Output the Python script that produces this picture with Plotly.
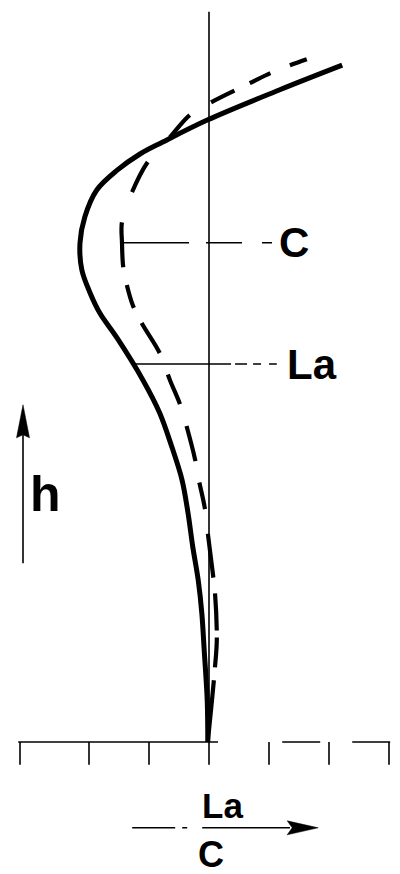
import numpy as np
import plotly.graph_objects as go

# Profiles against height h: La (solid) and C (dashed); horizontal axis is La/C
LA_X = [-0.02, -0.03, -0.08, -0.12, -0.18, -0.27, -0.35, -0.45, -0.62, -0.82, -1.10,
        -1.53, -1.82, -1.98, -2.12, -2.15, -2.07, -1.87, -1.53, -1.15, -0.77, -0.02,
        1.18, 2.22]
LA_H = [0.0, 0.70, 1.53, 2.15, 2.70, 3.25, 3.82, 4.37, 4.92, 5.48, 6.03,
        6.73, 7.15, 7.48, 7.87, 8.32, 8.75, 9.20, 9.53, 9.80, 10.00, 10.37,
        10.87, 11.28]

C_X = [-0.02, 0.05, 0.10, 0.13, 0.10, 0.05, -0.02, -0.07, -0.17, -0.23, -0.37,
       -0.48, -0.65, -0.82, -1.12, -1.27, -1.37, -1.43, -1.45, -1.45, -1.28, -1.02,
       -0.65, -0.32, 0.05, 0.68, 1.03, 1.35, 1.63]
C_H = [0.0, 0.70, 1.25, 1.70, 2.48, 2.92, 3.48, 3.90, 4.37, 4.70, 5.25,
       5.62, 6.03, 6.48, 6.98, 7.28, 7.62, 7.92, 8.32, 8.67, 9.17, 9.67,
       10.08, 10.45, 10.67, 10.98, 11.15, 11.28, 11.38]

# Reference levels marked on the chart
LEVEL_C = 8.32
LEVEL_LA = 6.30

# Tick marks along the La/C axis
TICKS = [-3.15, -2.0, -1.0, 0.0, 1.0, 2.0, 3.0]

W, H = 400, 874
PX = 60.0                     # pixels per data unit, both axes
X0_PX, Y0_PX = 209, 742       # pixel position of the origin
XR = [-X0_PX / PX, (W - X0_PX) / PX]
YR = [(Y0_PX - H) / PX, Y0_PX / PX]

INK = "#000000"
FONT = "Liberation Sans, Arial, Helvetica, sans-serif"

fig = go.Figure()


def seg(x, y, width=1.6, dash="solid"):
    fig.add_trace(go.Scatter(x=x, y=y, mode="lines",
                             line=dict(color=INK, width=width, dash=dash),
                             hoverinfo="skip"))


def arrowhead(tip_x, tip_y, direction, length_px, half_px, notch_px):
    """Filled, slightly notched arrowhead; direction is 'right' or 'up'."""
    L, Hh, N = length_px / PX, half_px / PX, notch_px / PX
    if direction == "right":
        pts = [(tip_x, tip_y), (tip_x - L, tip_y + Hh),
               (tip_x - L + N, tip_y), (tip_x - L, tip_y - Hh)]
    else:
        pts = [(tip_x, tip_y), (tip_x + Hh, tip_y - L),
               (tip_x, tip_y - L + N), (tip_x - Hh, tip_y - L)]
    path = "M " + " L ".join(f"{a},{b}" for a, b in pts) + " Z"
    fig.add_shape(type="path", path=path, xref="x", yref="y",
                  fillcolor=INK, line=dict(color=INK, width=0.5))


# vertical reference axis (La/C = 0)
seg([0, 0], [0, 12.17], width=1.6)

# baseline with hanging ticks
seg([-3.18, 0.15], [0, 0], width=1.6)
seg([1.22, 3.02], [0, 0], width=1.5, dash="38px,32px")
tx, ty = [], []
for t in TICKS:
    tx += [t, t, None]
    ty += [0, -0.38, None]
seg(tx, ty, width=1.6)

# level line for the C extremum
c_start = min(C_X)
seg([c_start, 1.07], [LEVEL_C, LEVEL_C], width=1.6,
    dash="67px,17px,36px,20px,10px,200px")

# level line for La
la_start = float(np.interp(LEVEL_LA, LA_H, LA_X))
seg([la_start, 1.13], [LEVEL_LA, LEVEL_LA], width=1.5,
    dash="98px,4px,12px,6px,8px,8px,10px,200px")

# C profile (dashed)
fig.add_trace(go.Scatter(
    x=C_X, y=C_H, mode="lines",
    line=dict(color=INK, width=4.2, shape="spline", smoothing=1.0,
              dash="62px,13px,30px,7px,37px,16px,44px,25px,27px,22px,36px,23px,"
                   "32px,23px,35px,17px,24px,18px,45px,32px,34px,33px,30px,25px,"
                   "26px,17px,23px,21px,18px,60px"),
    hoverinfo="skip"))

# La profile (solid)
fig.add_trace(go.Scatter(
    x=LA_X, y=LA_H, mode="lines",
    line=dict(color=INK, width=5, shape="spline", smoothing=1.0),
    hoverinfo="skip"))

# h arrow
seg([-3.10, -3.10], [2.98, 5.30], width=1.6)
arrowhead(-3.10, 5.62, "up", 33, 6.5, 3)

# La/C arrow
seg([-1.28, 1.35], [-1.43, -1.43], width=1.6, dash="43px,7px,5px,15px,200px")
arrowhead(1.82, -1.43, "right", 31, 7, 5)

labels = [
    ("h", -2.73, 4.13, 50),
    ("C", 1.42, LEVEL_C, 42),
    ("La", 1.72, LEVEL_LA, 42),
    ("La", 0.22, -1.05, 35),
    ("C", 0.03, -1.88, 36),
]
for text, x, y, size in labels:
    fig.add_annotation(x=x, y=y, xref="x", yref="y", text=text, showarrow=False,
                       xanchor="center", yanchor="middle",
                       font=dict(family=FONT, size=size, color=INK, weight="bold"))

fig.update_layout(
    width=W, height=H, margin=dict(l=0, r=0, t=0, b=0),
    paper_bgcolor="white", plot_bgcolor="white", showlegend=False,
    xaxis=dict(range=XR, visible=False, fixedrange=True),
    yaxis=dict(range=YR, visible=False, fixedrange=True),
)

fig.write_html("out.html")
